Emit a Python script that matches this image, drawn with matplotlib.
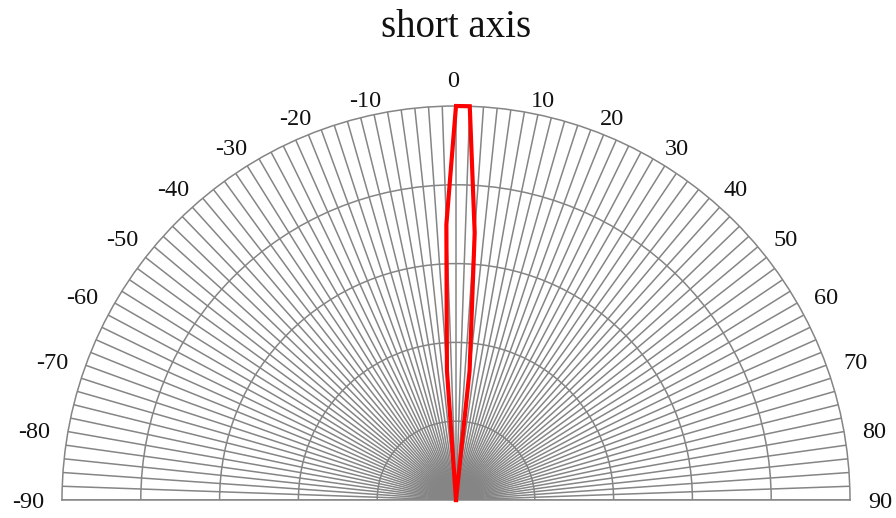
import numpy as np
import matplotlib
matplotlib.use("Agg")
import matplotlib.pyplot as plt

# Angular grid (degrees) and the beam profile of the short axis
spoke_angles = np.arange(-90, 91, 2)
ring_radii = [0.2, 0.4, 0.6, 0.8]
beam_angles = [-6, -4, -2, 0, 2, 4, 6, 8]
beam_values = [0.0, 0.33, 0.70, 1.0, 1.0, 0.68, 0.33, 0.0]
label_angles = list(range(-90, 91, 10))
title_text = "short axis"

W, H, DPI = 896, 518, 100
fig = plt.figure(figsize=(W / DPI, H / DPI), dpi=DPI)
fig.patch.set_facecolor("white")

# The half-disk wedge is centred in a square axes box, so the box is
# 2R x 2R centred on the middle of the half-disk.
cx, cy, R = 456, 500, 394
box_cy = cy - R / 2
ax = fig.add_axes([(cx - R) / W, (H - box_cy - R) / H, 2 * R / W, 2 * R / H],
                  projection="polar")
ax.set_theta_zero_location("N")
ax.set_theta_direction(-1)
ax.set_thetamin(-90)
ax.set_thetamax(90)
ax.set_ylim(0, 1)

grid_col = "#858585"
ax.set_thetagrids(spoke_angles, labels=[""] * len(spoke_angles))
ax.set_rgrids(ring_radii, labels=[""] * len(ring_radii))
ax.grid(True, color=grid_col, linewidth=1.1)
ax.tick_params(length=0)
for sp in ax.spines.values():
    sp.set_color(grid_col)
    sp.set_linewidth(1.1)

ax.plot(np.radians(beam_angles), beam_values, color="#ff0000", linewidth=3.0,
        solid_joinstyle="miter", zorder=5, clip_on=False)

serif = ["Liberation Serif", "DejaVu Serif"]
for a in label_angles:
    th = np.radians(a)
    if a == 0:
        dx, dy, ha = -3, 24, "center"
    else:
        s = abs(np.sin(th))
        dx = 18 * s ** 0.6
        dy = 14 * np.cos(th) - 3
        ha = "left" if a > 0 else "right"
        dx = dx if a > 0 else -dx
    ax.annotate(str(a), xy=(th, 1.0), xycoords="data",
                xytext=(dx, dy), textcoords="offset pixels",
                ha=ha, va="center", fontsize=17.5, family=serif,
                color="#111111", annotation_clip=False)

fig.text(cx / W, 1 - 37 / H, title_text, ha="center", va="baseline",
         fontsize=28, family=serif, color="#111111")

fig.savefig("out.png", dpi=DPI, facecolor="white")
